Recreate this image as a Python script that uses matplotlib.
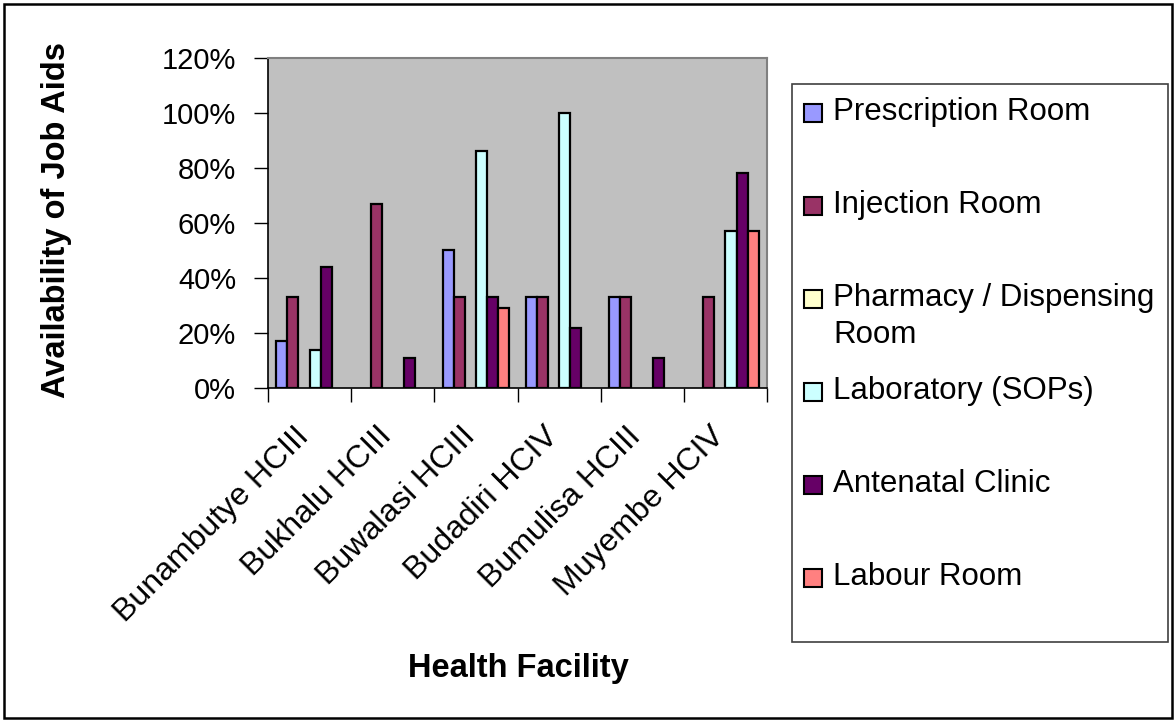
import matplotlib
matplotlib.use("Agg")
import matplotlib.pyplot as plt
import numpy as np
from matplotlib.patches import Rectangle
from matplotlib.ticker import PercentFormatter, FixedLocator
from matplotlib.transforms import ScaledTranslation

plt.rcParams['font.family'] = ['Liberation Sans', 'DejaVu Sans']

facilities = ["Bunambutye HCIII", "Bukhalu HCIII", "Buwalasi HCIII",
              "Budadiri HCIV", "Bumulisa HCIII", "Muyembe HCIV"]
series_names = ["Prescription Room", "Injection Room",
                "Pharmacy / Dispensing\nRoom", "Laboratory (SOPs)",
                "Antenatal Clinic", "Labour Room"]
prescription = [17, 0, 50, 33, 33, 0]
injection = [33, 67, 33, 33, 33, 33]
pharmacy = [0, 0, 0, 0, 0, 0]
laboratory = [14, 0, 86, 100, 0, 57]
antenatal = [44, 11, 33, 22, 11, 78]
labour = [0, 0, 29, 0, 0, 57]
series_values = [prescription, injection, pharmacy, laboratory, antenatal, labour]
colors = ["#9999FF", "#993366", "#FFFFCC", "#CCFFFF", "#660066", "#FF8080"]
yticks = [0, 20, 40, 60, 80, 100, 120]

W, H, DPI = 1176, 722, 100
fig = plt.figure(figsize=(W / DPI, H / DPI), dpi=DPI)

def fx(px):
    return px / W

def fy(py):
    return 1 - py / H

L, R, T, B = 268, 767, 58, 388
ax = fig.add_axes([fx(L), fy(B), fx(R - L), (B - T) / H])
ax.set_facecolor("#C0C0C0")

n = len(series_names)
bw = 0.8 / n
x = np.arange(len(facilities))
for i, (vals, c) in enumerate(zip(series_values, colors)):
    v = np.array(vals, dtype=float)
    pos = x - 0.4 + bw * (i + 0.5)
    mask = v > 0
    ax.bar(pos[mask], v[mask], width=bw, color=c, edgecolor="black",
           linewidth=1.6, zorder=3)

ax.set_xlim(-0.5, len(facilities) - 0.5)
ax.set_ylim(0, 120)
ax.set_yticks(yticks)
ax.yaxis.set_major_formatter(PercentFormatter(decimals=0))
ax.tick_params(axis='y', direction='out', length=10, width=1, pad=13,
               labelsize=21, colors='black')

# category labels at centers, boundary ticks as minor
ax.set_xticks(x)
ax.set_xticklabels(facilities, rotation=45, ha='right', va='top',
                   rotation_mode='anchor', fontsize=23)
ax.tick_params(axis='x', which='major', length=0, pad=24)
ax.xaxis.set_minor_locator(FixedLocator(np.arange(-0.5, len(facilities), 1.0)))
ax.tick_params(axis='x', which='minor', direction='out', length=10, width=1)
off = ScaledTranslation(-16 / DPI, 0, fig.dpi_scale_trans)
for lab in ax.get_xticklabels():
    lab.set_transform(lab.get_transform() + off)

for s in ['top', 'right']:
    ax.spines[s].set_color('#808080')
    ax.spines[s].set_linewidth(1.5)
for s in ['left', 'bottom']:
    ax.spines[s].set_color('black')
    ax.spines[s].set_linewidth(1.2)

# axis titles
fig.text(fx(57), fy(220), "Availability of Job Aids", rotation=90,
         ha='center', va='center', fontsize=23.5, fontweight='bold')
fig.text(fx(518), fy(668), "Health Facility", ha='center', va='center',
         fontsize=23.5, fontweight='bold')

# legend box
LL, LR, LT, LB = 792, 1168, 84, 642
fig.add_artist(Rectangle((fx(LL), fy(LB)), fx(LR - LL), (LB - LT) / H,
                         transform=fig.transFigure, facecolor='white',
                         edgecolor='#404040', linewidth=1.2))
y0, dy = 113, 93
for i, (name, c) in enumerate(zip(series_names, colors)):
    yc = y0 + dy * i
    fig.add_artist(Rectangle((fx(804), fy(yc + 9)), fx(18), 18 / H,
                             transform=fig.transFigure, facecolor=c,
                             edgecolor='black', linewidth=1.5))
    fig.text(fx(833), fy(yc - 16), name, ha='left', va='top', fontsize=22.5,
             linespacing=1.3)

# outer border
fig.add_artist(Rectangle((fx(4), fy(718)), fx(1168), 714 / H,
                         transform=fig.transFigure, facecolor='none',
                         edgecolor='black', linewidth=1.8))

fig.savefig("out.png", dpi=DPI)
